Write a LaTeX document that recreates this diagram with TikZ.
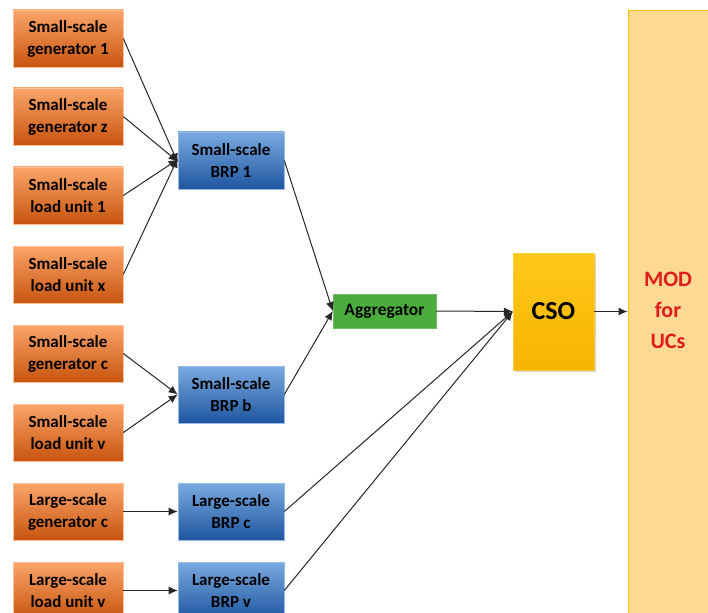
\documentclass[tikz,border=0pt]{standalone}
\usepackage{fontspec}
\setmainfont{Carlito}
\usetikzlibrary{arrows.meta,shadows}
\definecolor{orTop}{HTML}{FBA56A}
\definecolor{orBot}{HTML}{C8540E}
\definecolor{blTop}{HTML}{7AAAE0}
\definecolor{blBot}{HTML}{1E56A0}
\definecolor{aggGreen}{HTML}{4BAE3C}
\definecolor{csoTop}{HTML}{FFC81A}
\definecolor{csoBot}{HTML}{F6B400}
\definecolor{modFill}{HTML}{FDD994}
\definecolor{modLine}{HTML}{FFC000}
\definecolor{modText}{HTML}{E01B1B}
\tikzset{
  unitbox/.style={rectangle, minimum width=110pt, minimum height=57pt, inner sep=0pt,
    top color=orTop, bottom color=orBot, draw=orTop!70!white, line width=0.6pt,
    align=center, font=\bfseries\fontsize{17}{22}\selectfont, text=black},
  brpbox/.style={rectangle, minimum width=106pt, minimum height=57pt, inner sep=0pt,
    top color=blTop, bottom color=blBot, draw=blTop!80!white, line width=0.6pt,
    align=center, font=\bfseries\fontsize{17}{22}\selectfont, text=black},
  link/.style={draw=black!85, line width=1pt, -{Latex[length=9pt,width=8pt]}}
}
\begin{document}
\begin{tikzpicture}[x=1pt,y=-1pt]
\clip (0,0) rectangle (708,612);
\fill[white] (0,0) rectangle (708,612);

% market operator column on the right
\node[rectangle, fill=modFill, draw=modLine, line width=1.2pt, minimum width=90pt,
  minimum height=612pt, anchor=north west, inner sep=0pt] (mod) at (627.5,10) {};
\node[font=\bfseries\fontsize{22}{31}\selectfont, text=modText, align=center]
  (modtxt) at (668,310) {MOD\\for\\UCs};

% small- and large-scale units
\node[unitbox] (g1) at (68,38.5) {Small-scale\\generator 1};
\node[unitbox] (gz) at (68,116.5) {Small-scale\\generator z};
\node[unitbox] (l1) at (68,195.5) {Small-scale\\load unit 1};
\node[unitbox] (lx) at (68,274.5) {Small-scale\\load unit x};
\node[unitbox] (gc) at (68,353.5) {Small-scale\\generator c};
\node[unitbox] (lv) at (68,432.5) {Small-scale\\load unit v};
\node[unitbox] (Lgc) at (68,511.5) {Large-scale\\generator c};
\node[unitbox] (Llv) at (68,590.5) {Large-scale\\load unit v};

% balance responsible parties
\node[brpbox] (b1) at (231,160.5) {Small-scale\\BRP 1};
\node[brpbox] (bb) at (231,394.5) {Small-scale\\BRP b};
\node[brpbox] (bc) at (231,511.5) {Large-scale\\BRP c};
\node[brpbox] (bv) at (231,590.5) {Large-scale\\BRP v};

% aggregator and CSO
\node[rectangle, fill=aggGreen, draw=aggGreen!80!white, minimum width=103pt,
  minimum height=34pt, inner sep=0pt, font=\bfseries\fontsize{17.5}{20}\selectfont]
  (agg) at (384.5,311) {Aggregator};
\node[rectangle, top color=csoTop, bottom color=csoBot, draw=csoTop!90!white,
  minimum width=81pt, minimum height=117pt, inner sep=0pt,
  drop shadow={shadow xshift=2pt, shadow yshift=-2pt, opacity=0.35},
  font=\bfseries\fontsize{26}{30}\selectfont] (cso) at (553.5,311.5) {CSO};

% connectors
\draw[link] (g1.east) -- ([yshift=-2pt]b1.west);
\draw[link] (gz.east) -- ([yshift=-1pt]b1.west);
\draw[link] (l1.east) -- ([yshift=1pt]b1.west);
\draw[link] (lx.east) -- ([yshift=2pt]b1.west);
\draw[link] (gc.east) -- (bb.west);
\draw[link] (lv.east) -- (bb.west);
\draw[link] (Lgc.east) -- (bc.west);
\draw[link] (Llv.east) -- (bv.west);
\draw[link] (b1.east) -- (agg.west);
\draw[link] (bb.east) -- (agg.west);
\draw[link] (agg.east) -- (cso.west);
\draw[link] (bc.east) -- (cso.west);
\draw[link] (bv.east) -- (cso.west);
\draw[link] (cso.east) -- (mod.west |- cso.east);
\end{tikzpicture}
\end{document}
